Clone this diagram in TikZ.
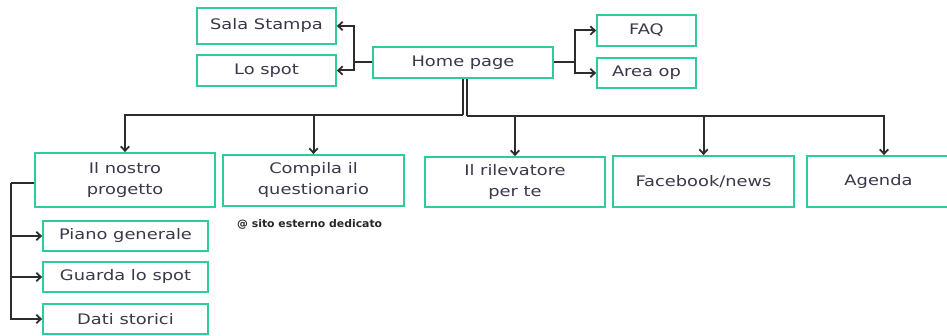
\documentclass[tikz,border=0pt]{standalone}
\usepackage{fontspec}
\usepackage{graphicx}
\setmainfont[FakeStretch=1.23]{DejaVu Sans}
\usetikzlibrary{arrows.meta}
\definecolor{boxc}{RGB}{46,204,154}
\definecolor{linec}{RGB}{45,45,45}
\definecolor{txtc}{RGB}{58,56,74}
\begin{document}
\begin{tikzpicture}[x=1pt,y=-1pt,
  box/.style={draw=boxc, line width=1.8pt, fill=white, inner sep=0pt, align=center,
    text=txtc, font=\fontsize{14.5}{21}\selectfont},
  conn/.style={draw=linec, line width=2pt},
  arr/.style={conn, -{Straight Barb[length=4.5pt,width=8.5pt,line width=1.8pt]}}]
\useasboundingbox (0,0) rectangle (947,336);
% top row
\node[box, minimum width=139pt, minimum height=36pt] (sala) at (266.5,26) {Sala Stampa};
\node[box, minimum width=139pt, minimum height=31pt] (lospot) at (266.5,70.5) {Lo spot};
\node[box, minimum width=180pt, minimum height=31pt] (home) at (463,62.5) {Home page};
\node[box, minimum width=99pt, minimum height=31pt] (faq) at (646.5,30.5) {FAQ};
\node[box, minimum width=99pt, minimum height=30pt] (area) at (646.5,73) {Area op};
% second row
\node[box, minimum width=180pt, minimum height=54pt] (prog) at (125,180) {Il nostro\\progetto};
\node[box, minimum width=181pt, minimum height=51pt] (comp) at (313.5,180.5) {Compila il\\questionario};
\node[box, minimum width=180pt, minimum height=50pt] (ril) at (515,182) {Il rilevatore\\per te};
\node[box, minimum width=181pt, minimum height=51pt] (fb) at (703.5,181.5) {Facebook/news};
\node[box, minimum width=143pt, minimum height=51pt] (agenda) at (878.5,181.5) {Agenda};
% sub items
\node[box, minimum width=165pt, minimum height=30pt] (piano) at (125.5,236) {Piano generale};
\node[box, minimum width=165pt, minimum height=30pt] (guarda) at (125.5,277) {Guarda lo spot};
\node[box, minimum width=165pt, minimum height=30pt] (dati) at (125.5,319) {Dati storici};
% note
\node[anchor=west, inner sep=0pt, text=black!85] (note) at (237,224)
  {\resizebox{145pt}{8pt}{\bfseries @ sito esterno dedicato}};
% connectors
\coordinate (hl) at (354,62.5);
\coordinate (hr) at (575,62.5);
\draw[conn] (home.west) -- (hl);
\draw[arr] (hl) |- (sala.east);
\draw[arr] (hl) |- (lospot.east);
\draw[conn] (home.east) -- (hr);
\draw[arr] (hr) |- (faq.west);
\draw[arr] (hr) |- (area.west);
\coordinate (bl) at (462.5,115);
\coordinate (br) at (467,116.5);
\coordinate (ag) at (884,0);
\draw[conn] (home.south -| bl) -- (bl);
\draw[conn] (home.south -| br) -- (br);
\draw[arr] (bl) -| (prog.north);
\draw[arr] (bl) -| (comp.north);
\draw[arr] (br) -| (ril.north);
\draw[arr] (br) -| (fb.north);
\draw[arr] (br) -| (agenda.north -| ag);
\coordinate (sv) at (11,183);
\draw[conn] (prog.west |- sv) -- (sv);
\draw[arr] (sv) |- (piano.west);
\draw[arr] (sv) |- (guarda.west);
\draw[arr] (sv) |- (dati.west);
\end{tikzpicture}
\end{document}
